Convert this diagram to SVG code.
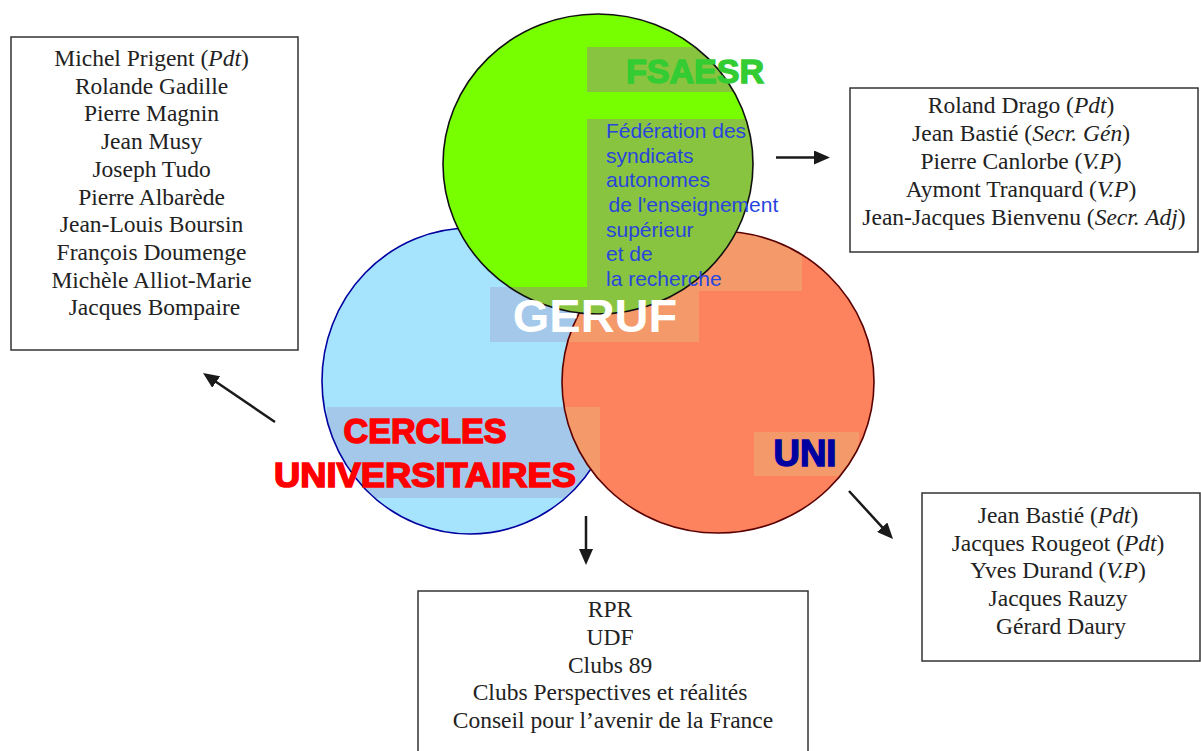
<svg xmlns="http://www.w3.org/2000/svg" width="1201" height="751" viewBox="0 0 1201 751">
<style>
.box{fill:#fff;stroke:#333;stroke-width:1.5}
.lst{font-family:"Liberation Serif","Times New Roman",serif;font-size:23.5px;fill:#222;text-anchor:middle}
.it{font-style:italic}
.conn{stroke:#1a1a1a;stroke-width:2.5;fill:none}
.desc{font-family:"Liberation Sans",Arial,sans-serif;font-size:21px;fill:#2846DD}
.big{font-family:"Liberation Sans",Arial,sans-serif;font-weight:bold;text-anchor:middle}
</style>
<defs>
<marker id="ah" viewBox="0 0 16 14" refX="8" refY="7" markerWidth="16" markerHeight="14" markerUnits="userSpaceOnUse" orient="auto">
<path d="M0,0 L16,7 L0,14 z" fill="#1a1a1a"/>
</marker>
<ellipse id="eb" cx="470" cy="381" rx="148" ry="153"/>
<ellipse id="er" cx="718" cy="382" rx="156" ry="151"/>
<ellipse id="eg" cx="598" cy="164" rx="155" ry="150"/>
<clipPath id="cb"><use href="#eb"/></clipPath>
<clipPath id="cr"><use href="#er"/></clipPath>
<clipPath id="cg"><use href="#eg"/></clipPath>
<g id="tb">
<rect x="587" y="47" width="220" height="45"/>
<rect x="587" y="119" width="215" height="172"/>
<rect x="490" y="287" width="209" height="55"/>
<rect x="327" y="407" width="273" height="91"/>
<rect x="754" y="432" width="105" height="44"/>
</g>
</defs>
<rect width="1201" height="751" fill="#fff"/>

<g id="circle-cercles">
<use href="#eb" fill="#A6E3FC"/>
<use href="#tb" fill="#A3C8EA" clip-path="url(#cb)"/>
<use href="#eb" fill="none" stroke="#0000A0" stroke-width="1.6"/>
</g>
<g id="circle-uni">
<use href="#er" fill="#FD835F"/>
<use href="#tb" fill="#F49A6A" clip-path="url(#cr)"/>
<use href="#er" fill="none" stroke="#5A0000" stroke-width="1.6"/>
</g>
<g id="circle-fsaesr">
<use href="#eg" fill="#77FF00"/>
<use href="#tb" fill="#88C440" clip-path="url(#cg)"/>
<use href="#eg" fill="none" stroke="#111" stroke-width="1.6"/>
</g>

<g id="labels">
<text class="big" x="695" y="83" font-size="34" fill="#33CC33" stroke="#33CC33" stroke-width="1.4" textLength="138" lengthAdjust="spacingAndGlyphs">FSAESR</text>
<text class="desc">
<tspan x="606" y="138">Fédération des</tspan>
<tspan x="606" y="162.7">syndicats</tspan>
<tspan x="606" y="187.3">autonomes</tspan>
<tspan x="608.5" y="212">de l'enseignement</tspan>
<tspan x="606" y="236.7">supérieur</tspan>
<tspan x="606" y="261.3">et de</tspan>
<tspan x="606" y="286">la recherche</tspan>
</text>
<text class="big" x="595" y="332" font-size="47" fill="#fff">GERUF</text>
<text class="big" x="425" y="443" font-size="34.5" fill="#FF0000" stroke="#FF0000" stroke-width="1.6" textLength="163" lengthAdjust="spacingAndGlyphs">CERCLES</text>
<text class="big" x="425" y="487" font-size="34.5" fill="#FF0000" stroke="#FF0000" stroke-width="1.6" textLength="302" lengthAdjust="spacingAndGlyphs">UNIVERSITAIRES</text>
<text class="big" x="805" y="466" font-size="36" fill="#0000A0" stroke="#0000A0" stroke-width="1.4" textLength="63" lengthAdjust="spacingAndGlyphs">UNI</text>
</g>

<g id="box-left">
<rect class="box" x="11" y="37" width="287" height="313"/>
<text class="lst">
<tspan x="154.5" y="66">Michel Prigent (<tspan class="it">Pdt</tspan>)</tspan>
<tspan x="154.5" y="93.7">Rolande Gadille</tspan>
<tspan x="154.5" y="121.4">Pierre Magnin</tspan>
<tspan x="154.5" y="149.1">Jean Musy</tspan>
<tspan x="154.5" y="176.8">Joseph Tudo</tspan>
<tspan x="154.5" y="204.5">Pierre Albarède</tspan>
<tspan x="154.5" y="232.2">Jean-Louis Boursin</tspan>
<tspan x="154.5" y="259.9">François Doumenge</tspan>
<tspan x="154.5" y="287.6">Michèle Alliot-Marie</tspan>
<tspan x="154.5" y="315.3">Jacques Bompaire</tspan>
</text>
</g>

<g id="box-fsaesr">
<rect class="box" x="850" y="88" width="348" height="164"/>
<text class="lst">
<tspan x="1024" y="113">Roland Drago (<tspan class="it">Pdt</tspan>)</tspan>
<tspan x="1024" y="141">Jean Bastié (<tspan class="it">Secr. Gén</tspan>)</tspan>
<tspan x="1024" y="169">Pierre Canlorbe (<tspan class="it">V.P</tspan>)</tspan>
<tspan x="1024" y="197">Aymont Tranquard (<tspan class="it">V.P</tspan>)</tspan>
<tspan x="1024" y="225">Jean-Jacques Bienvenu (<tspan class="it">Secr. Adj</tspan>)</tspan>
</text>
</g>

<g id="box-uni">
<rect class="box" x="922" y="493" width="278" height="168"/>
<text class="lst">
<tspan x="1061" y="523">Jean Bastié (<tspan class="it">Pdt</tspan>)</tspan>
<tspan x="1061" y="551">Jacques Rougeot (<tspan class="it">Pdt</tspan>)</tspan>
<tspan x="1061" y="578">Yves Durand (<tspan class="it">V.P</tspan>)</tspan>
<tspan x="1061" y="606">Jacques Rauzy</tspan>
<tspan x="1061" y="634">Gérard Daury</tspan>
</text>
</g>

<g id="box-cercles">
<rect class="box" x="418" y="591" width="390" height="175"/>
<text class="lst">
<tspan x="613" y="617">RPR</tspan>
<tspan x="613" y="645">UDF</tspan>
<tspan x="613" y="673">Clubs 89</tspan>
<tspan x="613" y="700">Clubs Perspectives et réalités</tspan>
<tspan x="613" y="728">Conseil pour l’avenir de la France</tspan>
</text>
</g>

<g id="connectors">
<line class="conn" x1="776" y1="157.5" x2="822" y2="157.5" stroke-width="3" marker-end="url(#ah)"/>
<line class="conn" x1="275" y1="422" x2="209.6" y2="377.5" marker-end="url(#ah)"/>
<line class="conn" x1="586" y1="516" x2="586" y2="557" marker-end="url(#ah)"/>
<line class="conn" x1="849" y1="491" x2="887.6" y2="533.1" marker-end="url(#ah)"/>
</g>
</svg>
